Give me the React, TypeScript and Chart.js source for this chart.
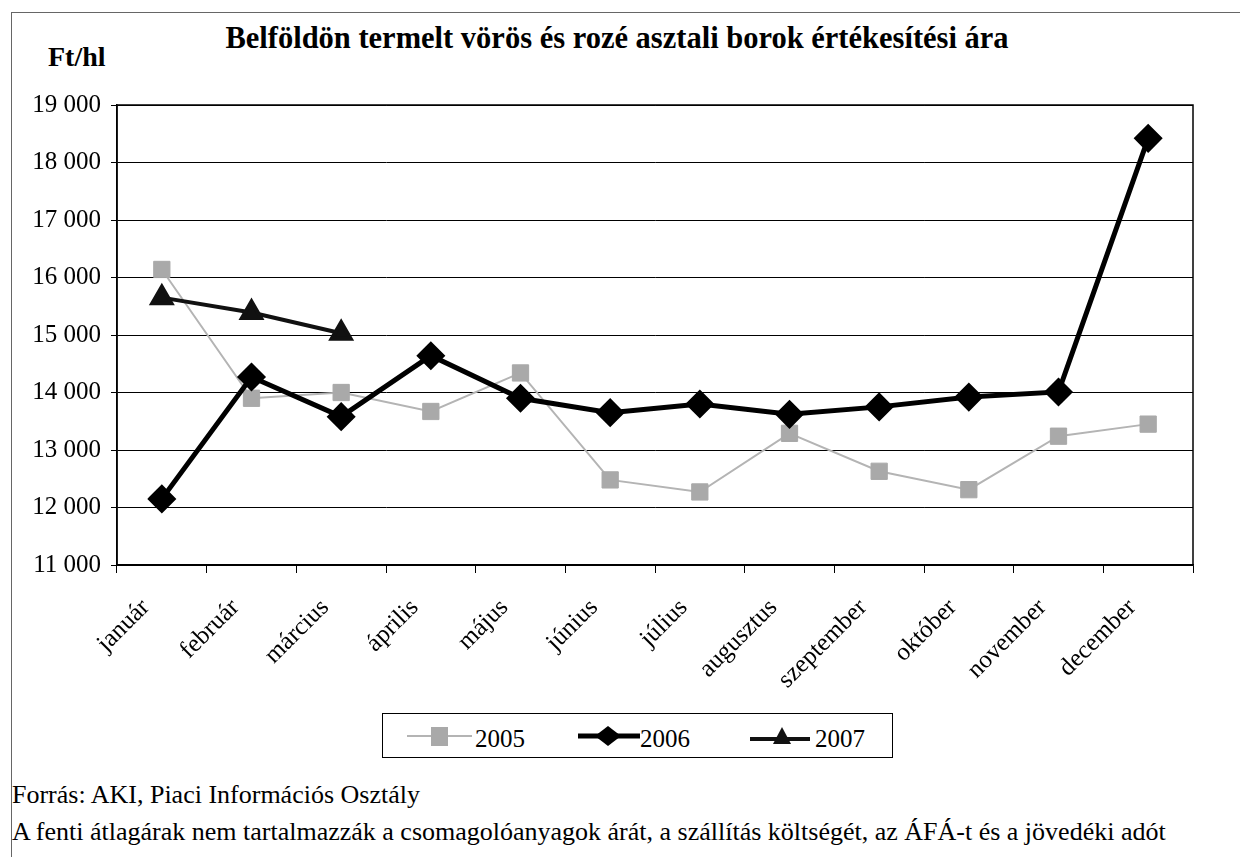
import React, { useEffect, useRef } from "react";
import { Chart, registerables } from "chart.js";

Chart.register(...registerables);

const months = [
  "január",
  "február",
  "március",
  "április",
  "május",
  "június",
  "július",
  "augusztus",
  "szeptember",
  "október",
  "november",
  "december",
];

const values2005 = [16140, 13900, 14000, 13670, 14340, 12480, 12270, 13290, 12630, 12310, 13240, 13450];
const values2006 = [12150, 14270, 13580, 14640, 13900, 13650, 13800, 13620, 13750, 13920, 14010, 18420];
const values2007 = [15650, 15390, 15030, null, null, null, null, null, null, null, null, null];

const yMin = 11000;
const yMax = 19000;
const yStep = 1000;

const SERIF = '"Liberation Serif", "Times New Roman", serif';

const formatThousands = (v: number) => String(v).replace(/\B(?=(\d{3})+(?!\d))/g, " ");

// Excel-style box around the plot area
const plotFrame = {
  id: "plotFrame",
  beforeDatasetsDraw(chart: Chart) {
    const { ctx, chartArea } = chart;
    ctx.save();
    ctx.strokeStyle = "#000";
    ctx.lineWidth = 1.5;
    ctx.strokeRect(chartArea.left, chartArea.top, chartArea.right - chartArea.left, chartArea.bottom - chartArea.top);
    ctx.restore();
  },
};

const LegendIcon = ({ kind }: { kind: string }) => {
  if (kind === "2005") {
    return (
      <svg width="65" height="26">
        <line x1="0" y1="13" x2="65" y2="13" stroke="#b4b4b4" strokeWidth="2" />
        <rect x="24" y="4" width="17" height="19" fill="#a9a9a9" />
      </svg>
    );
  }
  if (kind === "2006") {
    return (
      <svg width="62" height="26">
        <line x1="0" y1="13" x2="62" y2="13" stroke="#000" strokeWidth="5" />
        <polygon points="30,3 43,13 30,23 17,13" fill="#000" />
      </svg>
    );
  }
  return (
    <svg width="60" height="26">
      <line x1="0" y1="16" x2="60" y2="16" stroke="#111" strokeWidth="4" />
      <polygon points="32,4 41,21 23,21" fill="#111" />
    </svg>
  );
};

// x offsets of icon / text inside the legend box
const legendSlots = [
  { year: "2005", icon: 24, text: 92 },
  { year: "2006", icon: 195, text: 257 },
  { year: "2007", icon: 367, text: 432 },
];

const App = () => {
  const canvasRef = useRef<HTMLCanvasElement>(null);

  useEffect(() => {
    if (!canvasRef.current) return;
    const ctx = canvasRef.current.getContext("2d") as CanvasRenderingContext2D;
    const chart = new Chart(ctx, {
      type: "line",
      data: {
        labels: months,
        datasets: [
          {
            label: "2005",
            data: values2005,
            borderColor: "#b4b4b4",
            borderWidth: 2,
            pointStyle: "rect",
            pointRadius: 11.5,
            pointBackgroundColor: "#a9a9a9",
            pointBorderColor: "#a9a9a9",
            pointBorderWidth: 1,
            tension: 0,
            order: 3,
          },
          {
            label: "2006",
            data: values2006,
            borderColor: "#000",
            borderWidth: 5,
            pointStyle: "rectRot",
            pointRadius: 11,
            pointBackgroundColor: "#000",
            pointBorderColor: "#000",
            tension: 0,
            order: 2,
          },
          {
            label: "2007",
            data: values2007,
            borderColor: "#111",
            borderWidth: 4,
            pointStyle: "triangle",
            pointRadius: 11,
            pointBackgroundColor: "#111",
            pointBorderColor: "#111",
            tension: 0,
            spanGaps: false,
            order: 1,
          },
        ],
      },
      options: {
        animation: false,
        responsive: true,
        maintainAspectRatio: false,
        layout: { padding: { top: 92, right: 53, left: 0, bottom: 0 } },
        plugins: {
          legend: { display: false },
          title: { display: false },
          tooltip: { enabled: false },
        },
        scales: {
          x: {
            offset: true,
            grid: { display: true, drawOnChartArea: false, drawTicks: true, tickLength: 8, offset: true, color: "#000" },
            border: { display: true, color: "#000", width: 1.5 },
            ticks: {
              font: { family: SERIF, size: 25 },
              color: "#000",
              maxRotation: 45,
              minRotation: 45,
              padding: 20,
              labelOffset: -16,
              autoSkip: false,
            },
            afterFit: (scale: any) => {
              scale.height = 148;
            },
          },
          y: {
            min: yMin,
            max: yMax,
            ticks: {
              stepSize: yStep,
              callback: (v: any) => formatThousands(Number(v)),
              font: { family: SERIF, size: 25 },
              color: "#000",
              padding: 10,
            },
            grid: { color: "#000", lineWidth: 1, tickLength: 6 },
            border: { display: true, color: "#000", width: 1.5 },
            afterFit: (scale: any) => {
              scale.width = 105;
            },
          },
        },
      },
      plugins: [plotFrame],
    });

    return () => {
      chart.destroy();
    };
  }, []);

  return (
    <div
      style={{
        position: "relative",
        width: "1234px",
        height: "845px",
        marginLeft: "3px",
        marginTop: "4px",
        borderLeft: "1px solid #666",
        borderTop: "1px solid #666",
        borderRight: "1px solid #888",
        fontFamily: SERIF,
        color: "#000",
        overflow: "hidden",
      }}
    >
      <div
        style={{
          position: "absolute",
          left: 0,
          top: "10px",
          width: "1210px",
          textAlign: "center",
          fontWeight: "bold",
          fontSize: "30.5px",
          lineHeight: "30px",
        }}
      >
        Belföldön termelt vörös és rozé asztali borok értékesítési ára
      </div>
      <div
        style={{
          position: "absolute",
          left: "36px",
          top: "30px",
          fontWeight: "bold",
          fontSize: "28px",
          lineHeight: "28px",
        }}
      >
        Ft/hl
      </div>
      <div style={{ position: "absolute", left: 0, top: 0, width: "1234px", height: "700px" }}>
        <canvas ref={canvasRef} />
      </div>
      <div
        style={{
          position: "absolute",
          left: "370px",
          top: "700px",
          width: "511px",
          height: "45px",
          border: "1px solid #000",
          boxSizing: "border-box",
          fontSize: "25px",
          lineHeight: "25px",
        }}
      >
        {legendSlots.map((s) => (
          <React.Fragment key={s.year}>
            <div style={{ position: "absolute", left: `${s.icon}px`, top: "9px", height: "26px" }}>
              <LegendIcon kind={s.year} />
            </div>
            <span style={{ position: "absolute", left: `${s.text}px`, top: "12px" }}>{s.year}</span>
          </React.Fragment>
        ))}
      </div>
      <div style={{ position: "absolute", left: 0, top: "763px", fontSize: "26px", lineHeight: "37px" }}>
        <div>Forrás: AKI, Piaci Információs Osztály</div>
        <div>A fenti átlagárak nem tartalmazzák a csomagolóanyagok árát, a szállítás költségét, az ÁFÁ-t és a jövedéki adót</div>
      </div>
    </div>
  );
};

export default App;
